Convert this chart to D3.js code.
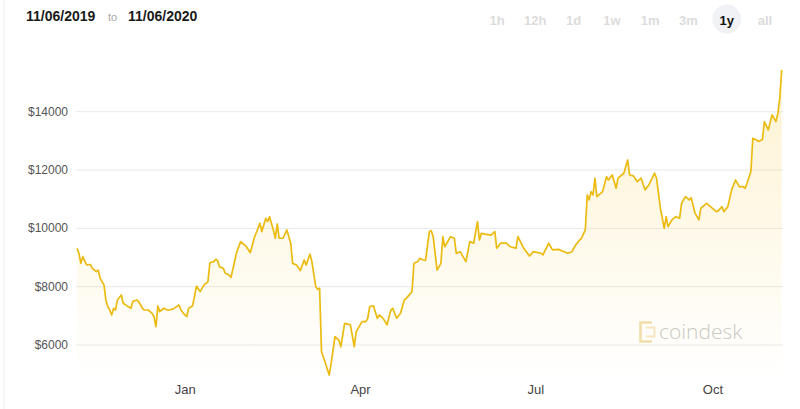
<!DOCTYPE html>
<html><head><meta charset="utf-8">
<script src="https://cdn.jsdelivr.net/npm/d3@7"></script>
<style>
body{margin:0;background:#fff;}
svg{display:block;font-family:"Liberation Sans",Arial,Helvetica,sans-serif;}
</style>
</head><body>
<svg id="chart" width="800" height="409"></svg>
<script>
const dates = [
"2019-11-06","2019-11-07","2019-11-08","2019-11-09","2019-11-11","2019-11-13","2019-11-14","2019-11-16","2019-11-17","2019-11-18","2019-11-20","2019-11-21","2019-11-22","2019-11-23","2019-11-24","2019-11-25","2019-11-26","2019-11-27","2019-11-29","2019-11-30",
"2019-12-02","2019-12-04","2019-12-05","2019-12-07","2019-12-08","2019-12-10","2019-12-11","2019-12-13","2019-12-15","2019-12-16","2019-12-17","2019-12-18","2019-12-19","2019-12-21","2019-12-23","2019-12-24","2019-12-26","2019-12-29","2019-12-30",
"2020-01-01","2020-01-02","2020-01-03","2020-01-05","2020-01-06","2020-01-07","2020-01-09","2020-01-11","2020-01-12","2020-01-13","2020-01-14","2020-01-16","2020-01-17","2020-01-18","2020-01-19","2020-01-21","2020-01-22","2020-01-24","2020-01-25","2020-01-27","2020-01-28","2020-01-30",
"2020-02-01","2020-02-02","2020-02-04","2020-02-06","2020-02-07","2020-02-09","2020-02-10","2020-02-12","2020-02-13","2020-02-14","2020-02-16","2020-02-17","2020-02-18","2020-02-19","2020-02-21","2020-02-23","2020-02-25","2020-02-26","2020-02-28",
"2020-03-01","2020-03-03","2020-03-04","2020-03-06","2020-03-07","2020-03-09","2020-03-10","2020-03-11","2020-03-12","2020-03-14","2020-03-16","2020-03-17","2020-03-19","2020-03-21","2020-03-22","2020-03-24","2020-03-27","2020-03-29","2020-03-30",
"2020-04-02","2020-04-04","2020-04-05","2020-04-06","2020-04-08","2020-04-10","2020-04-11","2020-04-13","2020-04-15","2020-04-17","2020-04-18","2020-04-20","2020-04-22","2020-04-24","2020-04-25","2020-04-28","2020-04-29",
"2020-05-01","2020-05-02","2020-05-04","2020-05-05","2020-05-07","2020-05-08","2020-05-09","2020-05-11","2020-05-13","2020-05-14","2020-05-15","2020-05-18","2020-05-20","2020-05-21","2020-05-23","2020-05-26","2020-05-28","2020-05-30",
"2020-06-01","2020-06-02","2020-06-03","2020-06-05","2020-06-08","2020-06-10","2020-06-11","2020-06-13","2020-06-16","2020-06-18","2020-06-21","2020-06-22","2020-06-25","2020-06-28","2020-06-30",
"2020-07-04","2020-07-05","2020-07-08","2020-07-10","2020-07-13","2020-07-16","2020-07-18","2020-07-20","2020-07-22","2020-07-24","2020-07-25","2020-07-27","2020-07-28","2020-07-29","2020-07-30","2020-07-31",
"2020-08-01","2020-08-02","2020-08-05","2020-08-07","2020-08-08","2020-08-10","2020-08-12","2020-08-13","2020-08-16","2020-08-18","2020-08-19","2020-08-21","2020-08-23","2020-08-25","2020-08-27","2020-08-29",
"2020-09-01","2020-09-02","2020-09-04","2020-09-06","2020-09-07","2020-09-08","2020-09-10","2020-09-12","2020-09-14","2020-09-15","2020-09-17","2020-09-19","2020-09-20","2020-09-22","2020-09-24","2020-09-25","2020-09-28","2020-09-30",
"2020-10-03","2020-10-04","2020-10-06","2020-10-07","2020-10-09","2020-10-11","2020-10-13","2020-10-15","2020-10-17","2020-10-18","2020-10-19","2020-10-21","2020-10-22","2020-10-24","2020-10-25","2020-10-27","2020-10-28","2020-10-30",
"2020-11-01","2020-11-03","2020-11-04","2020-11-05","2020-11-06"
];
const prices = [
9315,9145,8800,9030,8745,8760,8630,8515,8570,8290,8060,7545,7315,7200,7030,7260,7200,7545,7715,7430,
7340,7260,7490,7545,7490,7260,7200,7200,7085,6970,6630,7340,7145,7260,7200,7200,7240,7370,7200,
7030,6970,7260,7340,7655,8020,7830,8060,8115,8170,8820,8860,8940,8900,8680,8630,8460,8400,8320,8915,9200,9545,
9430,9370,9165,9660,9830,10175,9890,10345,10230,10400,9945,9660,10150,9660,9660,9945,9490,8800,8745,
8550,8915,8745,9120,8860,8000,7910,7945,5770,5380,4970,5370,6285,6170,5940,6740,6690,5940,6455,
6800,6800,6910,7315,7340,6910,7030,6915,6690,7200,7260,6915,7090,7545,7600,7830,8800,
8860,8970,8915,8900,9890,9920,9715,8570,8800,9715,9370,9715,9660,9145,9200,8860,9545,9490,
10230,9600,9830,9800,9770,9890,9320,9490,9490,9370,9320,9715,9320,9050,9200,
9145,9090,9490,9260,9280,9200,9145,9200,9430,9600,9660,9945,11145,10975,11260,11145,
11720,11090,11260,11775,11660,11830,11375,11720,11890,12345,11830,11800,11600,11720,11320,11490,
11890,11720,10690,10000,10400,10060,10290,10400,10350,10860,11090,10975,11050,10520,10290,10690,10860,10745,
10570,10600,10745,10570,10745,11320,11660,11430,11430,11375,11545,11950,13090,13030,12980,13050,13660,13375,
13890,13660,13945,14460,15430
];
const yTicks = [6000, 8000, 10000, 12000, 14000];
const xTicks = ["2020-01-01","2020-04-01","2020-07-01","2020-10-01"];
const rangeButtons = ["1h","12h","1d","1w","1m","3m","1y","all"];
const activeButton = "1y";
const startLabel = "11/06/2019", endLabel = "11/06/2020", toLabel = "to";
const domainStart = "2019-11-06", domainEnd = "2020-11-06";
const areaFloor = 4800;

const parse = d3.timeParse("%Y-%m-%d");
const data = dates.map((d, i) => ({date: parse(d), value: prices[i]}));

const svg = d3.select("#chart");

const x = d3.scaleTime().domain([parse(domainStart), parse(domainEnd)]).range([77, 781.7]);
const y = d3.scaleLinear().domain([6000, 14000]).range([345, 111.7]);

// left border
svg.append("line").attr("x1", 4).attr("x2", 4).attr("y1", 0).attr("y2", 409)
  .attr("stroke", "#ededed").attr("stroke-width", 1);

// gradient
const defs = svg.append("defs");
const grad = defs.append("linearGradient").attr("id", "fillGrad")
  .attr("gradientUnits", "userSpaceOnUse").attr("x1", 0).attr("y1", y(15500)).attr("x2", 0).attr("y2", y(areaFloor));
grad.append("stop").attr("offset", 0).attr("stop-color", "#f7c52e").attr("stop-opacity", 0.22);
grad.append("stop").attr("offset", 1).attr("stop-color", "#f7c52e").attr("stop-opacity", 0.0);

// gridlines
svg.append("g").selectAll("line").data(yTicks).join("line")
  .attr("x1", 76).attr("x2", 783)
  .attr("y1", d => y(d)).attr("y2", d => y(d))
  .attr("stroke", "#e9e9e9").attr("stroke-width", 1);

// y labels
svg.append("g").selectAll("text").data(yTicks).join("text")
  .attr("x", 68).attr("y", d => y(d) + 4)
  .attr("text-anchor", "end").attr("font-size", 12).attr("fill", "#555")
  .text(d => "$" + d);

// watermark
const wm = svg.append("g");
wm.append("path").attr("d", "M652,322.5 H640.5 V341.5 H652")
  .attr("fill", "none").attr("stroke", "#f1dfae").attr("stroke-width", 2.6);
wm.append("path").attr("d", "M646,327.5 H654.5 V336.5 H646")
  .attr("fill", "none").attr("stroke", "#f4e7c4").attr("stroke-width", 2);
wm.append("text").attr("x", 659).attr("y", 339).attr("font-size", 21)
  .attr("font-family", "'Open Sans', 'Liberation Sans', sans-serif").attr("font-weight", 300)
  .attr("fill", "#c9c9c9").text("coindesk");

// area + line
const area = d3.area().x(d => x(d.date)).y0(y(areaFloor)).y1(d => y(d.value));
svg.append("path").datum(data).attr("d", area).attr("fill", "url(#fillGrad)");
const line = d3.line().x(d => x(d.date)).y(d => y(d.value));
svg.append("path").datum(data).attr("d", line)
  .attr("fill", "none").attr("stroke", "#ebbb12").attr("stroke-width", 1.7)
  .attr("stroke-linejoin", "round");

// x axis
const xAxis = d3.axisBottom(x).tickValues(xTicks.map(parse))
  .tickFormat(d3.timeFormat("%b")).tickSize(0).tickPadding(4);
const gx = svg.append("g").attr("transform", "translate(0,381)").call(xAxis);
gx.select(".domain").remove();
gx.selectAll("text").attr("font-size", 13).attr("fill", "#444")
  .attr("font-family", "'Liberation Sans', Arial, sans-serif");

// header
const hdr = svg.append("g");
hdr.append("text").attr("x", 26).attr("y", 21).attr("font-size", 14).attr("font-weight", "bold")
  .attr("fill", "#1a1a1a").text(startLabel);
hdr.append("text").attr("x", 108).attr("y", 21).attr("font-size", 11)
  .attr("fill", "#aaa").text(toLabel);
hdr.append("text").attr("x", 128).attr("y", 21).attr("font-size", 14).attr("font-weight", "bold")
  .attr("fill", "#1a1a1a").text(endLabel);

// range buttons
const bx = d3.scalePoint().domain(rangeButtons).range([497, 765]);
const btn = svg.append("g");
btn.append("circle").attr("cx", bx(activeButton)).attr("cy", 19).attr("r", 14.5).attr("fill", "#f1f2f5");
btn.selectAll("text").data(rangeButtons).join("text")
  .attr("x", d => bx(d)).attr("y", 25).attr("text-anchor", "middle")
  .attr("font-size", 13).attr("font-weight", d => d === activeButton ? "bold" : 600)
  .attr("fill", d => d === activeButton ? "#111" : "#dcdcdc")
  .text(d => d);
</script>
</body></html>
